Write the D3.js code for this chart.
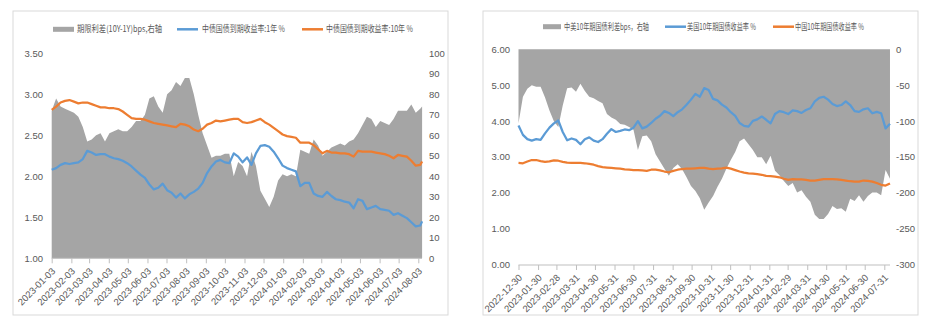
<!DOCTYPE html>
<html><head><meta charset="utf-8">
<script src="https://cdn.jsdelivr.net/npm/d3@7"></script>
<style>
body{margin:0;background:#fff;}
svg text{font-family:"Liberation Sans Narrow","Arial Narrow","Liberation Sans",sans-serif;fill:#595959;font-size:9.5px;}
svg text.cjk{font-family:"Noto Sans CJK SC","Noto Sans",sans-serif;font-size:9px;}
</style></head><body>
<svg id="c" width="936" height="322"></svg>
<script>
// ---------- Left chart data (weekly readings) ----------
const leftDates = ["2023-01-03","2023-01-10","2023-01-17","2023-01-24","2023-01-31","2023-02-07","2023-02-14","2023-02-21","2023-02-28","2023-03-07","2023-03-14","2023-03-21","2023-03-28","2023-04-04","2023-04-11","2023-04-18","2023-04-25","2023-05-02","2023-05-09","2023-05-16","2023-05-23","2023-05-30","2023-06-06","2023-06-13","2023-06-20","2023-06-27","2023-07-04","2023-07-11","2023-07-18","2023-07-25","2023-08-01","2023-08-08","2023-08-15","2023-08-22","2023-08-29","2023-09-05","2023-09-12","2023-09-19","2023-09-26","2023-10-03","2023-10-10","2023-10-17","2023-10-24","2023-10-31","2023-11-07","2023-11-14","2023-11-21","2023-11-28","2023-12-05","2023-12-12","2023-12-19","2023-12-26","2024-01-02","2024-01-09","2024-01-16","2024-01-23","2024-01-30","2024-02-06","2024-02-13","2024-02-20","2024-02-27","2024-03-05","2024-03-12","2024-03-19","2024-03-26","2024-04-02","2024-04-09","2024-04-16","2024-04-23","2024-04-30","2024-05-07","2024-05-14","2024-05-21","2024-05-28","2024-06-04","2024-06-11","2024-06-18","2024-06-25","2024-07-02","2024-07-09","2024-07-16","2024-07-23","2024-07-30","2024-08-06","2024-08-09"];
const termSpread = [72,78,74,73,72,71,69,64,57,58, 60,61,57,61,62,63,62,62,64,67, 67,70,78,79,74,71,80,82,86,84, 88,88,80,70,61,55,49,50,50,51, 51,40,47,45,40,52,45,33,29,25, 30,38,41,40,41,40,53,52,51,58, 55,50,52,54,55,56,55,57,58,61, 65,69,68,64,67,66,65,68,72,72, 72,75,71,73,74];
const cn1Y = [2.08,2.10,2.14,2.16,2.15,2.16,2.17,2.21,2.31,2.29, 2.26,2.27,2.27,2.24,2.22,2.21,2.19,2.16,2.12,2.07, 2.02,1.98,1.90,1.84,1.86,1.91,1.83,1.80,1.74,1.79, 1.73,1.78,1.81,1.85,1.92,2.04,2.12,2.18,2.20,2.17, 2.16,2.28,2.24,2.17,2.23,2.14,2.28,2.37,2.38,2.36, 2.30,2.22,2.13,2.10,2.08,2.06,1.88,1.92,1.92,1.79, 1.76,1.75,1.81,1.76,1.72,1.71,1.69,1.68,1.61,1.72, 1.70,1.60,1.62,1.64,1.60,1.59,1.58,1.53,1.55,1.52, 1.49,1.44,1.39,1.40,1.45];
const cn10Y = [2.81,2.85,2.90,2.92,2.93,2.91,2.89,2.90,2.90,2.88, 2.86,2.84,2.84,2.83,2.83,2.82,2.79,2.75,2.71,2.70, 2.70,2.69,2.67,2.65,2.64,2.63,2.62,2.61,2.60,2.64, 2.63,2.61,2.57,2.55,2.58,2.63,2.65,2.68,2.67,2.68, 2.69,2.70,2.70,2.66,2.65,2.66,2.68,2.70,2.66,2.63, 2.59,2.55,2.51,2.49,2.48,2.47,2.41,2.41,2.41,2.38, 2.33,2.28,2.31,2.29,2.29,2.28,2.28,2.27,2.24,2.31, 2.30,2.30,2.30,2.29,2.28,2.27,2.25,2.22,2.26,2.25, 2.24,2.19,2.13,2.14,2.18];
const leftXTicks = ["2023-01-03","2023-02-03","2023-03-03","2023-04-03","2023-05-03","2023-06-03","2023-07-03","2023-08-03","2023-09-03","2023-10-03","2023-11-03","2023-12-03","2024-01-03","2024-02-03","2024-03-03","2024-04-03","2024-05-03","2024-06-03","2024-07-03","2024-08-03"];
const leftYTicks = [1.00,1.50,2.00,2.50,3.00,3.50];
const leftY2Ticks = [0,10,20,30,40,50,60,70,80,90,100];
const leftLegend = ["期限利差(10Y-1Y)bps,右轴","中债国债到期收益率:1年 %","中债国债到期收益率:10年 %"];

// ---------- Right chart data (weekly readings) ----------
const rightDates = ["2022-12-30","2023-01-06","2023-01-13","2023-01-20","2023-01-27","2023-02-03","2023-02-10","2023-02-17","2023-02-24","2023-03-03","2023-03-10","2023-03-17","2023-03-24","2023-03-31","2023-04-07","2023-04-14","2023-04-21","2023-04-28","2023-05-05","2023-05-12","2023-05-19","2023-05-26","2023-06-02","2023-06-09","2023-06-16","2023-06-23","2023-06-30","2023-07-07","2023-07-14","2023-07-21","2023-07-28","2023-08-04","2023-08-11","2023-08-18","2023-08-25","2023-09-01","2023-09-08","2023-09-15","2023-09-22","2023-09-29","2023-10-06","2023-10-13","2023-10-20","2023-10-27","2023-11-03","2023-11-10","2023-11-17","2023-11-24","2023-12-01","2023-12-08","2023-12-15","2023-12-22","2023-12-29","2024-01-05","2024-01-12","2024-01-19","2024-01-26","2024-02-02","2024-02-09","2024-02-16","2024-02-23","2024-03-01","2024-03-08","2024-03-15","2024-03-22","2024-03-29","2024-04-05","2024-04-12","2024-04-19","2024-04-26","2024-05-03","2024-05-10","2024-05-17","2024-05-24","2024-05-31","2024-06-07","2024-06-14","2024-06-21","2024-06-28","2024-07-05","2024-07-12","2024-07-19","2024-07-26","2024-08-02","2024-08-09"];
const cnUsSpread = [-103,-66,-55,-50,-52,-52,-67,-85,-100,-108, -78,-54,-53,-59,-48,-58,-66,-68,-72,-75, -90,-95,-98,-104,-105,-108,-112,-140,-121,-120, -128,-146,-156,-166,-176,-165,-160,-167,-178,-190, -197,-207,-223,-213,-204,-191,-180,-166,-154,-143, -128,-124,-132,-140,-150,-150,-160,-148,-169,-175, -183,-190,-186,-199,-196,-205,-212,-230,-236,-236, -229,-218,-222,-221,-226,-208,-211,-203,-212,-204, -199,-199,-203,-168,-180];
const us10Y = [3.88,3.62,3.50,3.46,3.50,3.48,3.66,3.82,3.94,4.02, 3.70,3.47,3.52,3.48,3.36,3.50,3.55,3.46,3.42,3.50, 3.65,3.78,3.70,3.73,3.77,3.75,3.82,4.00,3.80,3.85, 3.95,4.07,4.15,4.28,4.23,4.14,4.25,4.33,4.46,4.60, 4.76,4.68,4.92,4.87,4.62,4.58,4.46,4.38,4.25,4.15, 3.95,3.87,3.85,4.01,4.05,4.13,4.04,3.94,4.20,4.28, 4.25,4.20,4.30,4.28,4.23,4.31,4.36,4.55,4.65,4.68, 4.60,4.48,4.42,4.45,4.55,4.45,4.28,4.26,4.33,4.36, 4.22,4.26,4.22,3.80,3.93];
const china10Y = [2.84,2.83,2.88,2.92,2.92,2.89,2.87,2.88,2.91,2.90, 2.87,2.85,2.84,2.84,2.84,2.83,2.81,2.79,2.75,2.72, 2.71,2.70,2.69,2.68,2.66,2.65,2.64,2.64,2.63,2.62, 2.65,2.65,2.63,2.60,2.58,2.62,2.65,2.67,2.68,2.68, 2.69,2.70,2.70,2.68,2.67,2.68,2.69,2.71,2.68,2.64, 2.60,2.57,2.55,2.54,2.53,2.51,2.48,2.47,2.46,2.44, 2.40,2.37,2.39,2.38,2.38,2.37,2.35,2.35,2.37,2.39, 2.39,2.39,2.38,2.37,2.35,2.33,2.32,2.32,2.35,2.34, 2.32,2.28,2.23,2.21,2.27];
const rightXTicks = ["2022-12-30","2023-01-30","2023-02-28","2023-03-31","2023-04-30","2023-05-31","2023-06-30","2023-07-31","2023-08-31","2023-09-30","2023-10-31","2023-11-30","2023-12-31","2024-01-31","2024-02-29","2024-03-31","2024-04-30","2024-05-31","2024-06-30","2024-07-31"];
const rightYTicks = [0,1,2,3,4,5,6];
const rightY2Ticks = [-300,-250,-200,-150,-100,-50,0];
const rightLegend = ["中美10年期国债利差bps，右轴","美国10年期国债收益率 %","中国10年期国债收益率 %"];

const GRAY = "#a5a5a5", BLUE = "#5b9bd5", ORANGE = "#ed7d31";
const parse = d3.timeParse("%Y-%m-%d");
const svg = d3.select("#c");

function panel(cfg){
  const g = svg.append("g");
  g.append("rect").attr("x",cfg.frame[0]).attr("y",cfg.frame[1]).attr("width",cfg.frame[2]).attr("height",cfg.frame[3])
    .attr("fill","#fff").attr("stroke","#d9d9d9").attr("stroke-width",1);
  const ticks = cfg.xTicks.map(parse);
  const x = d3.scaleTime().domain([ticks[0], ticks[ticks.length-1]]).range([cfg.xr[0], cfg.xr[1]]);
  const y = d3.scaleLinear().domain(cfg.yDom).range([cfg.yb, cfg.yt]);
  const y2 = d3.scaleLinear().domain(cfg.y2Dom).range([cfg.yb, cfg.yt]);
  const dates = cfg.dates.map(parse);
  const base = cfg.areaBase;
  const area = d3.area().x((d,i)=>x(dates[i])).y0(y2(base)).y1(d=>y2(d));
  g.append("path").datum(cfg.area).attr("d",area).attr("fill",GRAY);
  const line = d3.line().x((d,i)=>x(dates[i])).y(d=>y(d));
  g.append("path").datum(cfg.l1).attr("d",line).attr("fill","none").attr("stroke",BLUE).attr("stroke-width",2.25).attr("stroke-linejoin","round");
  g.append("path").datum(cfg.l2).attr("d",line).attr("fill","none").attr("stroke",ORANGE).attr("stroke-width",2.25).attr("stroke-linejoin","round");
  // x axis
  const ax = g.append("g").attr("transform",`translate(0,${cfg.yb})`)
    .call(d3.axisBottom(x).tickValues(ticks).tickSize(5).tickFormat(""));
  ax.select(".domain").attr("stroke","#bfbfbf").attr("d",`M${cfg.xr[0]},0H${cfg.xEnd}`);
  ax.selectAll(".tick line").attr("stroke","#bfbfbf");
  g.selectAll(".xl").data(cfg.xTicks).join("text")
    .attr("transform",(d,i)=>`translate(${x(ticks[i])+2},${cfg.yb+11}) rotate(-45)`)
    .attr("text-anchor","end").attr("dy","0.35em").text(d=>d);
  // left y labels
  g.selectAll(".yl").data(cfg.yTicks).join("text")
    .attr("x",cfg.yLabelX).attr("y",d=>y(d)).attr("dy","0.35em").attr("text-anchor","end")
    .text(d=>d3.format(".2f")(d));
  g.selectAll(".y2l").data(cfg.y2Ticks).join("text")
    .attr("x",cfg.y2LabelX).attr("y",d=>y2(d)).attr("dy","0.35em").attr("text-anchor","start")
    .text(d=>d);
  // legend
  const L = cfg.legend;
  g.append("rect").attr("x",L.sw[0][0]).attr("y",L.y-2.5).attr("width",L.sw[0][1]-L.sw[0][0]).attr("height",5).attr("fill",GRAY);
  g.append("line").attr("x1",L.sw[1][0]).attr("x2",L.sw[1][1]).attr("y1",L.y).attr("y2",L.y).attr("stroke",BLUE).attr("stroke-width",2.5);
  g.append("line").attr("x1",L.sw[2][0]).attr("x2",L.sw[2][1]).attr("y1",L.y).attr("y2",L.y).attr("stroke",ORANGE).attr("stroke-width",2.5);
  cfg.legendText.forEach((t,i)=>{
    g.append("text").attr("class","cjk").attr("x",L.tx[i][0]).attr("y",L.y).attr("dy","0.35em")
      .attr("textLength",L.tx[i][1]-L.tx[i][0]).attr("lengthAdjust","spacingAndGlyphs").text(t);
  });
}

panel({frame:[13,11,435,304], xTicks:leftXTicks, xr:[51.7,418.3], xEnd:422,
  yDom:[1,3.5], y2Dom:[0,100], yb:258.3, yt:53.3, dates:leftDates, areaBase:0,
  area:termSpread, l1:cn1Y, l2:cn10Y, yTicks:leftYTicks, y2Ticks:leftY2Ticks,
  yLabelX:43, y2LabelX:429,
  legend:{y:29.3, sw:[[53,74],[177,198],[302,323]], tx:[[77,162],[202,285],[326,413]]},
  legendText:leftLegend});

panel({frame:[483,11,435,304], xTicks:rightXTicks, xr:[518.5,884.3], xEnd:890,
  yDom:[0,6], y2Dom:[-300,0], yb:265, yt:49.3, dates:rightDates, areaBase:0,
  area:cnUsSpread, l1:us10Y, l2:china10Y, yTicks:rightYTicks, y2Ticks:rightY2Ticks,
  yLabelX:510, y2LabelX:896,
  legend:{y:26.7, sw:[[543,561],[665,686],[773,794]], tx:[[564,649],[687,756],[795,864]]},
  legendText:rightLegend});
</script>
</body></html>
